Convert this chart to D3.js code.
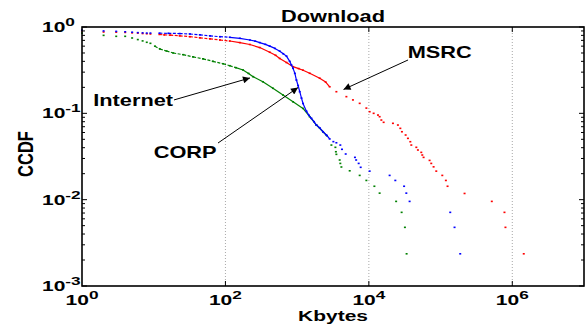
<!DOCTYPE html>
<html>
<head>
<meta charset="utf-8">
<script src="https://cdn.jsdelivr.net/npm/d3@7"></script>
<style>
  body { margin: 0; background: #fff; }
  text { font-family: "Liberation Sans", Arial, Helvetica, sans-serif; font-weight: bold; fill: #000; }
</style>
</head>
<body>
<div id="chart"></div>
<script>
// CCDF of download sizes [Kbytes, CCDF]
const corp = [
  [1,0.92],[2,0.90],[3,0.89],[4,0.88],[5,0.87],[6,0.86],[7,0.855],[8,0.85],[9,0.85],
  [12,0.848],[16,0.845],[23,0.84],[32,0.83],[44,0.812],[61,0.79],[84,0.772],[115,0.76],
  [159,0.74],[219,0.707],[260,0.685],[301,0.66],[360,0.63],[415,0.6],[490,0.565],[572,0.525],
  [640,0.49],[710,0.46],[788,0.40],[830,0.365],[877,0.332],[930,0.29],[977,0.243],[1030,0.21],
  [1087,0.178],[1150,0.15],[1208,0.13],[1346,0.106],[1460,0.095],[1581,0.0875],[1720,0.08],
  [1856,0.0732],[2064,0.068],[2296,0.0612],[2559,0.0561],[2844,0.0505],[3200,0.047],
  [3524,0.0456],[4000,0.0429],[4219,0.0383],[4753,0.0338],[6400,0.0309],[6650,0.0288],
  [7210,0.0263],[7690,0.0237],[10260,0.0214],[19480,0.0191],[23390,0.0167],[31000,0.0143],
  [33290,0.0119],[37000,0.00955],[136400,0.00713],[156600,0.00478],[187900,0.00236]
];
const msrc = [
  [1,0.905],[2,0.875],[3,0.87],[4,0.865],[5,0.855],[6,0.85],[7,0.84],[8,0.835],[9,0.83],
  [12,0.82],[14,0.81],[17,0.805],[23,0.79],[32,0.772],[44,0.75],[61,0.73],[84,0.707],
  [115,0.688],[159,0.66],[219,0.627],[301,0.578],[415,0.51],[500,0.47],[572,0.432],[710,0.388],
  [877,0.347],[1050,0.33],[1208,0.316],[1497,0.291],[2064,0.255],[2500,0.23],[2844,0.203],
  [3524,0.178],[4860,0.156],[6000,0.143],[7448,0.1305],[9230,0.115],[10260,0.1044],
  [11660,0.1],[13400,0.0955],[14130,0.0914],[14930,0.0836],[16070,0.0787],[21670,0.0766],
  [25410,0.0732],[27470,0.067],[28920,0.0612],[32570,0.0561],[35070,0.0513],[37850,0.0469],
  [39080,0.0429],[45900,0.0404],[48310,0.0376],[53830,0.0353],[55590,0.0329],[57960,0.0309],
  [70270,0.0285],[74160,0.0263],[79930,0.024],[87100,0.0214],[105700,0.0191],[118600,0.0167],
  [125100,0.0143],[216000,0.0118],[518000,0.00955],[778000,0.00713],[803000,0.00478],
  [1445000,0.00236]
];
const internet = [
  [1,0.85],[2,0.80],[3,0.78],[4,0.78],[5,0.746],[6,0.715],[7,0.69],[8,0.665],[9,0.647],
  [10.4,0.6],[12.2,0.556],[15.1,0.527],[18.7,0.5],[25.8,0.478],[35.5,0.45],[48.8,0.428],
  [67,0.4],[93,0.375],[115,0.356],[140,0.338],[176,0.318],[210,0.29],[243,0.266],[333,0.232],
  [460,0.195],[635,0.163],[877,0.136],[1208,0.114],[1497,0.0914],[1856,0.0732],[2296,0.0612],
  [2600,0.055],[3004,0.0429],[3415,0.0404],[3470,0.0359],[3524,0.0335],[3918,0.0288],
  [4000,0.0263],[4140,0.0239],[5405,0.0216],[7448,0.0191],[9230,0.0167],[11940,0.0143],
  [14130,0.0119],[24000,0.00955],[28640,0.00713],[31830,0.00478],[33600,0.00236]
];

const seriesNames = ["Internet", "MSRC", "CORP"];
const seriesColors = ["#008000", "#ff0000", "#0000ff"];
const xTickExp = [0, 2, 4, 6];
const yTickExp = [0, -1, -2, -3];

// annotation arrows, in data coordinates
const notes = [
  {label: "Internet", anchor: "end",   at: [18.6, 0.1216], from: [19.2, 0.143],  to: [220, 0.257]},
  {label: "CORP",     anchor: "start", at: [10.0, 0.0304], from: [78.8, 0.0453], to: [1028, 0.199]},
  {label: "MSRC",     anchor: "start", at: [34800, 0.441], from: [35200, 0.415], to: [4434, 0.189]}
];

const W = 585, H = 324;
const sx = 1.32; // the figure's text is stretched sideways
const fs = 16.5;

const svg = d3.select("#chart").append("svg")
  .attr("width", W).attr("height", H);

const x = d3.scaleLog().domain([1, 1e7]).range([82, 584]);
const y = d3.scaleLog().domain([1e-3, 1]).range([286, 27]);

function stretchedText(px, py, str, anchor, size, rot, stretch) {
  const t = svg.append("text")
    .attr("transform", `translate(${px},${py}) scale(${stretch || sx},1)` + (rot ? ` rotate(${rot})` : ""))
    .attr("text-anchor", anchor)
    .style("font-size", size + "px")
    .text(str);
  return t;
}

// grid (vertical, dotted)
svg.selectAll(".grid").data(xTickExp.slice(1)).enter()
  .append("line")
  .attr("x1", d => x(Math.pow(10, d))).attr("x2", d => x(Math.pow(10, d)))
  .attr("y1", y(1)).attr("y2", y(1e-3))
  .attr("stroke", "#a8a8a8").attr("stroke-width", 1)
  .attr("stroke-dasharray", "1,2");

// series
const plot = svg.append("g");
seriesNames.forEach((name, i) => {
  const data = name === "Internet" ? internet : name === "MSRC" ? msrc : corp;
  const col = seriesColors[i];
  const segs = [];
  for (let k = 1; k < data.length; k++) {
    const a = data[k - 1], b = data[k];
    const dx = x(b[0]) - x(a[0]), dy = y(b[1]) - y(a[1]);
    if (a[0] >= 10 && b[0] <= 3000 && Math.hypot(dx, dy) < 16) segs.push([a, b]);
  }
  plot.append("g").selectAll("line").data(segs).enter()
    .append("line")
    .attr("x1", d => x(d[0][0])).attr("y1", d => y(d[0][1]))
    .attr("x2", d => x(d[1][0])).attr("y2", d => y(d[1][1]))
    .attr("stroke", col).attr("stroke-width", 1.2)
    .attr("stroke-dasharray", d => d[1][0] <= 150 ? "3,1.5" : null);
  plot.append("g").selectAll("rect").data(data).enter()
    .append("rect")
    .attr("x", d => x(d[0]) - 1).attr("y", d => y(d[1]) - 0.8)
    .attr("width", 2).attr("height", 1.6)
    .attr("fill", col);
});

// axes box
svg.append("rect")
  .attr("x", x(1)).attr("y", y(1))
  .attr("width", x(1e7) - x(1)).attr("height", y(1e-3) - y(1))
  .attr("fill", "none").attr("stroke", "#000").attr("stroke-width", 1.6);

// y ticks (major + minor), inside, both sides
const yMinor = [];
[-3, -2, -1].forEach(e => { for (let m = 2; m <= 9; m++) yMinor.push(m * Math.pow(10, e)); });
const yMajor = yTickExp.map(e => Math.pow(10, e));
[[yMajor, 5], [yMinor, 3]].forEach(([vals, len]) => {
  svg.append("g").selectAll("line").data(vals).enter().append("line")
    .attr("x1", x(1)).attr("x2", x(1) + len)
    .attr("y1", d => y(d)).attr("y2", d => y(d))
    .attr("stroke", "#000").attr("stroke-width", 1);
  svg.append("g").selectAll("line").data(vals).enter().append("line")
    .attr("x1", x(1e7)).attr("x2", x(1e7) - len)
    .attr("y1", d => y(d)).attr("y2", d => y(d))
    .attr("stroke", "#000").attr("stroke-width", 1);
});
// x ticks
xTickExp.slice(1).forEach(e => {
  const px = x(Math.pow(10, e));
  svg.append("line").attr("x1", px).attr("x2", px).attr("y1", y(1e-3)).attr("y2", y(1e-3) - 5)
    .attr("stroke", "#000");
  svg.append("line").attr("x1", px).attr("x2", px).attr("y1", y(1)).attr("y2", y(1) + 5)
    .attr("stroke", "#000");
});

// tick labels
yTickExp.forEach(e => {
  const t = stretchedText(42, y(Math.pow(10, e)) + 5, "", "start", 14, 0, 1.5);
  t.append("tspan").text("10");
  t.append("tspan").attr("dy", -6).style("font-size", "11.5px").text(e);
});
xTickExp.forEach(e => {
  const t = stretchedText(x(Math.pow(10, e)), 304.5, "", "middle", 14, 0, 1.5);
  t.append("tspan").text("10");
  t.append("tspan").attr("dy", -6).style("font-size", "11.5px").text(e);
});

// titles
stretchedText((x(1) + x(1e7)) / 2, 21.5, "Download", "middle", fs);
stretchedText((x(1) + x(1e7)) / 2, 320.6, "Kbytes", "middle", 15, 0, 1.4);
stretchedText(33, 154, "CCDF", "middle", fs, -90);

// annotations
svg.append("defs").append("marker")
  .attr("id", "ah").attr("viewBox", "0 0 10 10")
  .attr("refX", 10).attr("refY", 5)
  .attr("markerWidth", 9).attr("markerHeight", 7)
  .attr("markerUnits", "userSpaceOnUse")
  .attr("orient", "auto")
  .append("path").attr("d", "M0,0 L10,5 L0,10 Z").attr("fill", "#000");

notes.forEach(n => {
  svg.append("line")
    .attr("x1", x(n.from[0])).attr("y1", y(n.from[1]))
    .attr("x2", x(n.to[0])).attr("y2", y(n.to[1]))
    .attr("stroke", "#000").attr("stroke-width", 1)
    .attr("marker-end", "url(#ah)");
  stretchedText(x(n.at[0]), y(n.at[1]), n.label, n.anchor, fs);
});
</script>
</body>
</html>
